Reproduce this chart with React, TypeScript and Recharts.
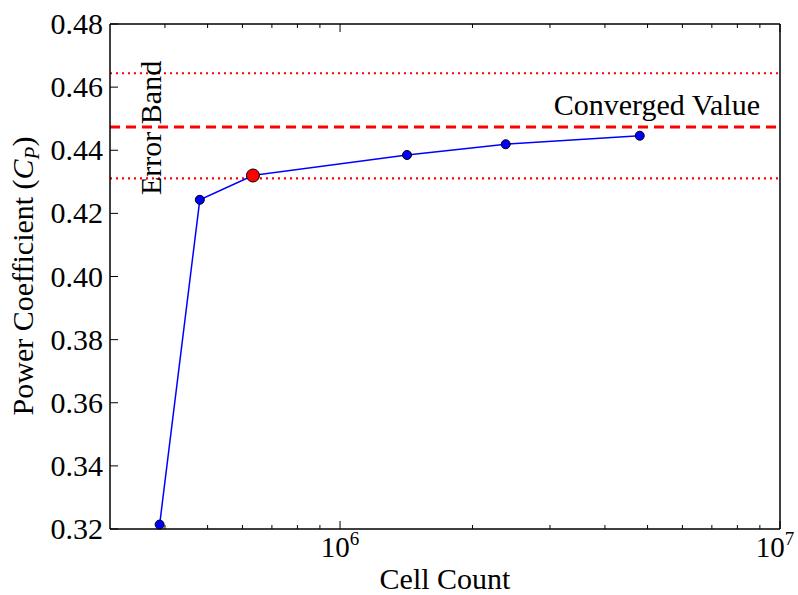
import React from "react"
import {
  LineChart,
  Line,
  XAxis,
  YAxis,
  ReferenceLine,
} from "recharts"

// grid convergence study
const cellCounts = [3.89e5, 4.8e5, 6.34e5, 1.42e6, 2.38e6, 4.8e6]
const powerCoeff = [0.3214, 0.4243, 0.432, 0.4385, 0.4419, 0.4446]
const selectedIndex = 2

const convergedValue = 0.4474
const bandLower = 0.4311
const bandUpper = 0.4644

const yTicks = [0.32, 0.34, 0.36, 0.38, 0.4, 0.42, 0.44, 0.46, 0.48]
const xMajor = [1e6, 1e7]
const xMinor = [
  4e5, 5e5, 6e5, 7e5, 8e5, 9e5,
  2e6, 3e6, 4e6, 5e6, 6e6, 7e6, 8e6, 9e6,
]

const data = cellCounts.map((c, i) => ({ cells: c, cp: powerCoeff[i] }))
const xTicks = [...xMinor, ...xMajor].sort((a, b) => a - b)

const FONT = "'Liberation Serif', 'Times New Roman', serif"
const FS = 30
const txt = { fontFamily: FONT, fontSize: FS, fill: "#000" }

const isMajor = (v: number) => xMajor.includes(v)

const BottomTick = ({ x, y, payload }: any) => {
  const major = isMajor(payload.value)
  const exp = Math.round(Math.log10(payload.value))
  // keep the last label inside the canvas
  const lx = Math.min(x, 775)
  return (
    <g>
      <line x1={x} x2={x} y1={y} y2={y - (major ? 8 : 4)} stroke="#000" strokeWidth={1} />
      {major && (
        <text x={lx} y={y + 28} textAnchor="middle" style={{ ...txt, fontSize: 29 }}>
          <tspan>10</tspan>
          <tspan dy={-12} style={{ fontSize: 19 }}>{exp}</tspan>
        </text>
      )}
    </g>
  )
}

const TopTick = ({ x, y, payload }: any) => {
  const major = isMajor(payload.value)
  return <line x1={x} x2={x} y1={y} y2={y + (major ? 8 : 4)} stroke="#000" strokeWidth={1} />
}

const LeftTick = ({ x, y, payload }: any) => (
  <g>
    <line x1={x} x2={x + 8} y1={y} y2={y} stroke="#000" strokeWidth={1} />
    <text x={x - 7} y={y} dy={10} textAnchor="end" style={txt}>
      {payload.value.toFixed(2)}
    </text>
  </g>
)

const RightTick = ({ x, y }: any) => (
  <line x1={x} x2={x - 8} y1={y} y2={y} stroke="#000" strokeWidth={1} />
)

const Dot = ({ cx, cy, index }: any) => {
  if (cx == null || cy == null) return null
  const sel = index === selectedIndex
  return (
    <circle
      key={index}
      cx={cx}
      cy={cy}
      r={sel ? 6.5 : 4.5}
      fill={sel ? "#ff0000" : "#0000ff"}
      stroke="#000"
      strokeWidth={1}
    />
  )
}

const ConvergedLabel = ({ viewBox }: any) => {
  if (!viewBox) return null
  const ex = viewBox.x + 51
  const ey = viewBox.y + 1
  return (
    <g>
      <text x={viewBox.x + viewBox.width - 20} y={viewBox.y - 12} textAnchor="end" style={txt}>
        Converged Value
      </text>
      <text x={ex} y={ey} textAnchor="middle" style={txt} transform={`rotate(-90 ${ex} ${ey})`}>
        Error Band
      </text>
    </g>
  )
}

const YTitle = () => (
  <text x={33} y={276} textAnchor="middle" style={txt} transform="rotate(-90 33 276)">
    <tspan>Power Coefficient (</tspan>
    <tspan style={{ fontStyle: "italic" }}>C</tspan>
    <tspan style={{ fontStyle: "italic", fontSize: 21 }} dy={6}>P</tspan>
    <tspan dy={-6}>)</tspan>
  </text>
)

const XTitle = () => (
  <text x={445} y={589} textAnchor="middle" style={txt}>
    Cell Count
  </text>
)

export default function App() {
  return (
    <div style={{ position: "absolute", left: 0, top: 0, background: "#fff" }}>
      <LineChart
        width={798}
        height={595}
        data={data}
        margin={{ top: 20, right: 14, bottom: 6, left: 10 }}
      >
        <XAxis
          xAxisId="b"
          dataKey="cells"
          type="number"
          scale="log"
          domain={[3e5, 1e7]}
          ticks={xTicks}
          interval={0}
          tickSize={0}
          tickMargin={0}
          tick={<BottomTick />}
          axisLine={{ stroke: "#000", strokeWidth: 1.5 }}
          tickLine={false}
          height={60}
          label={<XTitle />}
        />
        <XAxis
          xAxisId="t"
          orientation="top"
          dataKey="cells"
          type="number"
          scale="log"
          domain={[3e5, 1e7]}
          ticks={xTicks}
          interval={0}
          tickSize={0}
          tickMargin={0}
          tick={<TopTick />}
          axisLine={{ stroke: "#000", strokeWidth: 1.5 }}
          tickLine={false}
          height={4}
        />
        <YAxis
          yAxisId="l"
          type="number"
          domain={[0.32, 0.48]}
          ticks={yTicks}
          interval={0}
          tickSize={0}
          tickMargin={0}
          tick={<LeftTick />}
          axisLine={{ stroke: "#000", strokeWidth: 1.5 }}
          tickLine={false}
          width={100}
          label={<YTitle />}
        />
        <YAxis
          yAxisId="r"
          orientation="right"
          type="number"
          domain={[0.32, 0.48]}
          ticks={yTicks}
          interval={0}
          tickSize={0}
          tickMargin={0}
          tick={<RightTick />}
          axisLine={{ stroke: "#000", strokeWidth: 1.5 }}
          tickLine={false}
          width={4}
        />
        <ReferenceLine
          xAxisId="b"
          yAxisId="l"
          y={bandUpper}
          stroke="#ff0000"
          strokeWidth={2.2}
          strokeDasharray="2 4"
        />
        <ReferenceLine
          xAxisId="b"
          yAxisId="l"
          y={bandLower}
          stroke="#ff0000"
          strokeWidth={2.2}
          strokeDasharray="2 4"
        />
        <ReferenceLine
          xAxisId="b"
          yAxisId="l"
          y={convergedValue}
          stroke="#ff0000"
          strokeWidth={3}
          strokeDasharray="10 6"
          label={<ConvergedLabel />}
        />
        <Line
          xAxisId="b"
          yAxisId="l"
          dataKey="cp"
          stroke="#0000ff"
          strokeWidth={1.5}
          dot={<Dot />}
          activeDot={false}
          isAnimationActive={false}
        />
      </LineChart>
    </div>
  )
}
